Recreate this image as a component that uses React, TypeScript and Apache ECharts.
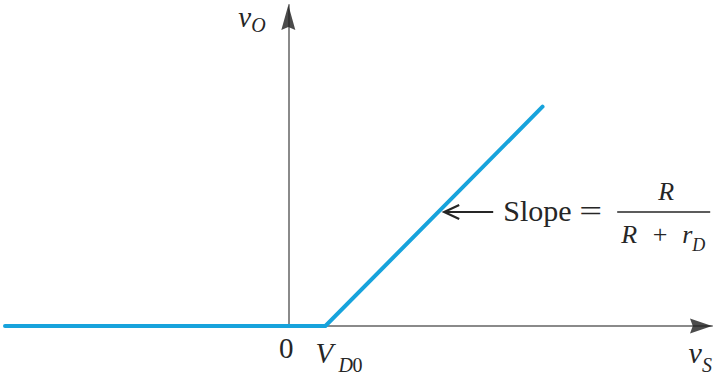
import React, { useEffect, useRef } from "react";
import * as echarts from "echarts";

// Piecewise-linear diode model: output vO against source vS
const vS = [-5.35, 0.7, 4.8];
const vO = [0, 0, 4.1];

// Axis extents (the arrow tips sit at the maxima)
const xRange = [-5.35, 8.0];
const yRange = [0, 6.0];

// Tick positions under the horizontal axis: origin and the knee voltage
const xTickValues = [0, 0.7];
const xTickLabels = ["0", "V"];
const kneeSubscript = ["D", "0"];

// A point on the rising segment where the slope callout points
const slopeAnchor = [2.83, 2.13];

const INK = "#262626";
const AXIS = "#8a8a8a";
const BLUE = "#17a3dc";
const SERIF = "Liberation Serif";

type Txt = {
  x: number;
  base: number;
  text: string;
  fs: number;
  italic?: boolean;
  align?: "left" | "center" | "right";
  scaleX?: number;
};

// text placed by its alphabetic baseline (SVG central baseline ≈ 0.3375em above it)
function txt(t: Txt) {
  return {
    type: "text",
    x: t.x,
    y: t.base - 0.3375 * t.fs,
    scaleX: t.scaleX ?? 1,
    silent: true,
    z: 20,
    style: {
      text: t.text,
      fill: INK,
      font: `${t.italic ? "italic " : ""}${t.fs}px "${SERIF}"`,
      align: t.align ?? "left",
      verticalAlign: "middle",
    },
  };
}

export default function App() {
  const ref = useRef<HTMLDivElement>(null);

  useEffect(() => {
    if (!ref.current) return;
    const chart = echarts.init(ref.current, undefined, { renderer: "svg" });

    const axisCommon = {
      type: "value" as const,
      axisLine: { show: true, onZero: true, lineStyle: { color: AXIS, width: 2 } },
      axisTick: { show: false },
      axisLabel: { show: false },
      splitLine: { show: false },
    };

    chart.setOption({
      animation: false,
      backgroundColor: "#ffffff",
      grid: { left: 5, right: 7, top: 5, bottom: 49 },
      xAxis: { ...axisCommon, min: xRange[0], max: xRange[1] },
      yAxis: { ...axisCommon, min: yRange[0], max: yRange[1] },
      series: [
        {
          type: "line",
          data: vS.map((x, i) => [x, vO[i]]),
          symbol: "none",
          silent: true,
          z: 3,
          lineStyle: { color: BLUE, width: 4, cap: "round", join: "miter" },
        },
        {
          // arrowhead at the end of the horizontal axis
          type: "scatter",
          data: [[xRange[1], 0]],
          symbol: "path://M0,-12L7,12L0,9L-7,12Z",
          symbolSize: [15, 22],
          symbolRotate: -90,
          symbolOffset: [-11, 0],
          clip: false,
          silent: true,
          z: 4,
          itemStyle: { color: "#1e1e1e" },
        },
        {
          // arrowhead at the top of the vertical axis
          type: "scatter",
          data: [[0, yRange[1]]],
          symbol: "path://M0,-12L7,12L0,9L-7,12Z",
          symbolSize: [14, 25],
          symbolOffset: [0, 12.5],
          clip: false,
          silent: true,
          z: 4,
          itemStyle: { color: "#1e1e1e" },
        },
      ],
    });

    const px = (p: number[]) => chart.convertToPixel({ gridIndex: 0 }, p) as number[];
    const t0 = px([xTickValues[0], 0]);
    const t1 = px([xTickValues[1], 0]);
    const xEnd = px([xRange[1], 0]);
    const yEnd = px([0, yRange[1]]);
    const sp = px(slopeAnchor);

    // callout geometry, relative to the point on the line
    const ax0 = sp[0] + 6;
    const ay = sp[1];
    const fx = ax0 + 173; // fraction bar start

    chart.setOption({
      graphic: [
        // tick labels
        txt({ x: t0[0] - 2, base: 358, text: xTickLabels[0], fs: 29, align: "center" }),
        txt({ x: t1[0] - 10, base: 363, text: xTickLabels[1], fs: 29, italic: true }),
        txt({ x: t1[0] + 13, base: 372, text: kneeSubscript[0], fs: 20, italic: true }),
        txt({ x: t1[0] + 27, base: 372, text: kneeSubscript[1], fs: 20 }),
        // axis names
        txt({ x: yEnd[0] - 50, base: 26.5, text: "v", fs: 29, italic: true }),
        txt({ x: yEnd[0] - 37, base: 32, text: "O", fs: 20, italic: true }),
        txt({ x: xEnd[0] - 23.5, base: xEnd[1] + 37, text: "v", fs: 30, italic: true }),
        txt({ x: xEnd[0] - 10, base: xEnd[1] + 46, text: "S", fs: 20, italic: true }),
        // slope callout arrow
        {
          type: "line",
          silent: true,
          z: 20,
          shape: { x1: ax0, y1: ay, x2: ax0 + 49, y2: ay },
          style: { stroke: INK, lineWidth: 2 },
        },
        {
          type: "polyline",
          silent: true,
          z: 20,
          shape: { points: [[ax0 + 15, ay - 7], [ax0, ay], [ax0 + 15, ay + 7]] },
          style: { stroke: INK, lineWidth: 2.2, fill: null },
        },
        txt({ x: ax0 + 59, base: ay + 9, text: "Slope", fs: 30 }),
        txt({ x: ax0 + 135, base: ay + 9, text: "=", fs: 30, scaleX: 1.35 }),
        // R / (R + rD)
        {
          type: "line",
          silent: true,
          z: 20,
          shape: { x1: fx, y1: ay, x2: fx + 93, y2: ay },
          style: { stroke: INK, lineWidth: 1.6 },
        },
        txt({ x: fx + 49, base: ay - 12, text: "R", fs: 26, italic: true, align: "center" }),
        txt({ x: fx + 4, base: ay + 31, text: "R", fs: 26, italic: true }),
        txt({ x: fx + 43, base: ay + 31, text: "+", fs: 26, align: "center" }),
        txt({ x: fx + 65, base: ay + 31, text: "r", fs: 26, italic: true }),
        txt({ x: fx + 75, base: ay + 39, text: "D", fs: 18, italic: true }),
      ],
    });

    return () => chart.dispose();
  }, []);

  return (
    <div
      ref={ref}
      style={{ position: "absolute", left: 0, top: 0, width: 719, height: 375, background: "#fff" }}
    />
  );
}
